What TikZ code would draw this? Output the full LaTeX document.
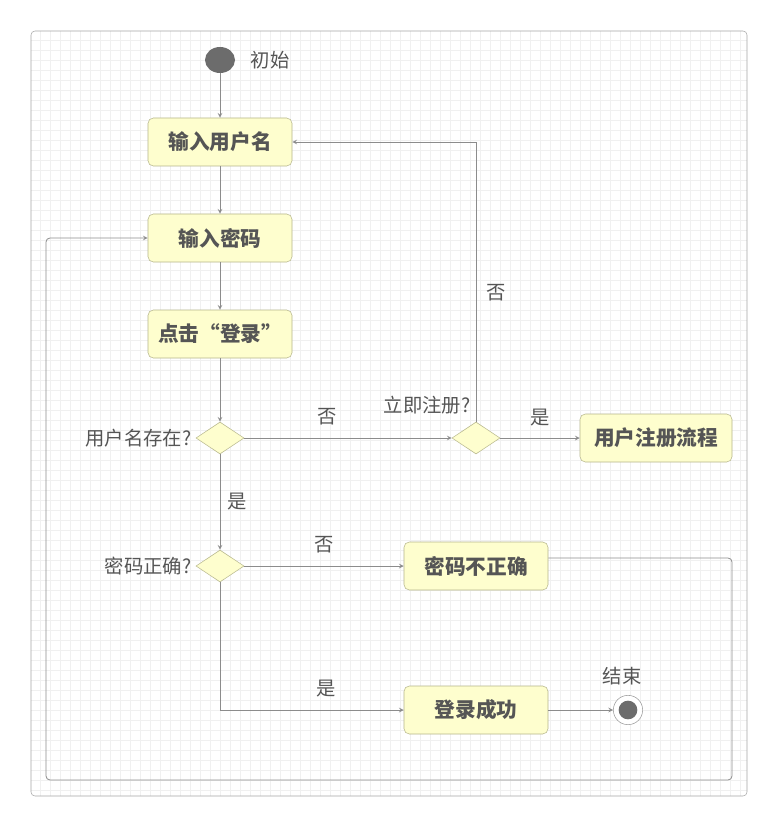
\documentclass[tikz,border=0pt]{standalone}
\usepackage{fontspec}
\setmainfont{Noto Sans CJK SC}
\usetikzlibrary{arrows,shapes.geometric,calc,backgrounds}
\definecolor{boxfill}{HTML}{FEFECE}
\definecolor{boxline}{HTML}{B5B58A}
\definecolor{linegray}{HTML}{8C8C8C}
\definecolor{textgray}{HTML}{555555}
\tikzset{
  actbox/.style={draw=boxline,fill=boxfill,rounded corners=4pt,minimum width=108pt,minimum height=36pt,font=\fontsize{15.5}{18}\selectfont\bfseries,text=textgray},
  choice/.style={draw=boxline,fill=boxfill,diamond,aspect=1.5,minimum width=36pt,minimum height=24pt,inner sep=0pt},
  flow/.style={draw=linegray,line width=0.6pt,-stealth},
  lbl/.style={font=\fontsize{14.5}{17}\selectfont,text=textgray}
}
\begin{document}
\begin{tikzpicture}[x=0.75pt,y=-0.75pt]
\useasboundingbox (0,0) rectangle (778,827);
\fill[white] (0,0) rectangle (778,827);
\draw[step=7.5pt,color=gray!12,line width=0.3pt] (31,31) grid (747,796);
\draw[gray!70,rounded corners=3pt] (31,31) rectangle (747,796);
% start
\node[ellipse,fill=gray!85!black,minimum width=22.5pt,minimum height=19.5pt,inner sep=0pt] (start) at (220,60) {};
\node[lbl,anchor=west] (startlbl) at (246,60) {初始};
% actions
\node[actbox] (user) at (220,142) {输入用户名};
\node[actbox] (pwd) at (220,238) {输入密码};
\node[actbox] (login) at (220,334) {点击“登录”};
\node[choice] (exist) at (220,438) {};
\node[lbl,anchor=east] (existlbl) at (196,438) {用户名存在?};
\node[choice] (reg) at (476,438) {};
\node[lbl] (reglbl) at (427,405) {立即注册?};
\node[actbox,minimum width=114pt] (regflow) at (656,438) {用户注册流程};
\node[choice] (right) at (220,566) {};
\node[lbl,anchor=east] (rightlbl) at (196,566) {密码正确?};
\node[actbox] (wrong) at (476,566) {密码不正确};
\node[actbox] (ok) at (476,710) {登录成功};
\node[circle,draw=gray!80,fill=white,minimum size=22pt,inner sep=0pt] (stop) at (628,710) {};
\node[circle,fill=gray!85!black,minimum size=14pt,inner sep=0pt] (stopdot) at (stop) {};
\node[lbl] (stoplbl) at (622,676) {结束};
% flows
\draw[flow] (start) -- (user);
\draw[flow] (user) -- (pwd);
\draw[flow] (pwd) -- (login);
\draw[flow] (login) -- (exist);
\draw[flow] (exist) -- node[lbl,pos=0.4,above=6pt] {否} (reg);
\draw[flow] (reg) -- node[lbl,above=5pt] {是} (regflow);
\draw[flow] (reg.north) |- node[lbl,pos=0.23,right=4pt] {否} (user.east);
\draw[flow] (exist) -- node[lbl,right=2pt] {是} (right);
\draw[flow] (right) -- node[lbl,above=6pt] {否} (wrong);
\draw[flow] (right.south) |- node[lbl,pos=0.79,above=6pt] {是} (ok.west);
\draw[flow] (ok) -- (stop);
\coordinate (c1) at (732,558);
\coordinate (c2) at (732,780);
\coordinate (c3) at (46,780);
\coordinate (c4) at (46,238);
\draw[flow,rounded corners=3pt] (wrong.east |- c1) -- (c1) -- (c2) -- (c3) -- (c4) -- (pwd.west);
\end{tikzpicture}
\end{document}
